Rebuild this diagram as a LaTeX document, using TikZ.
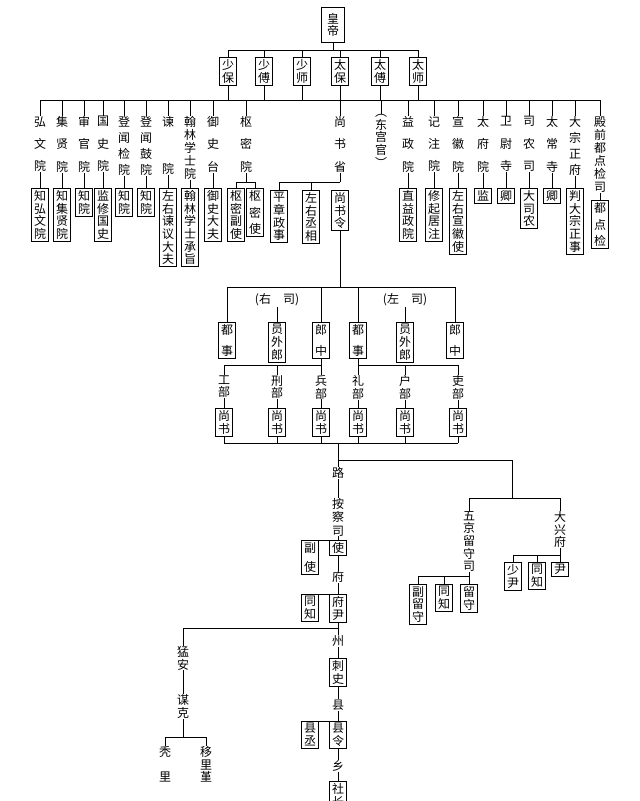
\documentclass[tikz,border=0pt]{standalone}
\usepackage{fontspec}
\newfontfamily\cjk{Noto Sans CJK SC}
\newcommand\lgap{\\[7.3pt]}
\tikzset{
  lbl/.style={font=\cjk\fontsize{9}{9.5}\selectfont, align=center, inner sep=0pt},
  box/.style={draw, font=\cjk\fontsize{9}{9.5}\selectfont, align=center, inner xsep=2pt, inner ysep=1.5pt},
  every path/.style={line width=0.6pt}
}
\begin{document}
\begin{tikzpicture}[x=0.75pt,y=-0.75pt]
    \useasboundingbox (0,0) rectangle (640,801);
    % Emperor and the three dukes / three solitaries
    \node[box, inner sep=4pt] (hd) at (333,25) {皇\\帝};
    \draw (hd.south) -- (333,50);
    \draw (228,50) -- (418,50);
    \foreach \i/\x/\t in {1/228/{少\\保}, 2/264/{少\\傅}, 3/302/{少\\师}, 4/340/{太\\保}, 5/380/{太\\傅}, 6/418/{太\\师}} {
        \node[box, anchor=north] (g\i) at (\x,57) {\t};
        \draw (\x,50) -- (g\i.north);
        \draw (g\i.south) -- (\x,100);
    }
    \draw (40,100) -- (600,100);
    
    % Offices along the main bus
    \foreach \i/\x/\t/\b/\y in {
        a/40/{弘\lgap 文\lgap 院}/{知\\弘\\文\\院}/188,
        b/62/{集\lgap 贤\lgap 院}/{知\\集\\贤\\院}/188,
        c/84/{审\lgap 官\lgap 院}/{知\\院}/188,
        d/103/{国\lgap 史\lgap 院}/{监\\修\\国\\史}/188,
        e/124/{登\\[2.5pt]闻\\[2.5pt]检\\[2.5pt]院}/{知\\院}/188,
        f/146/{登\\[2.5pt]闻\\[2.5pt]鼓\\[2.5pt]院}/{知\\院}/188,
        g/168/{谏\\[26pt]院}/{左\\右\\谏\\议\\大\\夫}/188,
        h/190/{翰\\[0.3pt]林\\[0.3pt]学\\[0.3pt]士\\[0.3pt]院}/{翰\\林\\学\\士\\承\\旨}/188,
        i/213/{御\lgap 史\lgap 台}/{御\\史\\大\\夫}/188,
        k/408/{益\lgap 政\lgap 院}/{直\\益\\政\\院}/188,
        l/434/{记\lgap 注\lgap 院}/{修\\起\\居\\注}/188,
        m/458/{宣\lgap 徽\lgap 院}/{左\\右\\宣\\徽\\使}/188,
        n/483/{太\lgap 府\lgap 院}/{监}/188,
        o/506/{卫\lgap 尉\lgap 寺}/{卿}/188,
        p/529/{司\lgap 农\lgap 司}/{大\\司\\农}/188,
        q/552/{太\lgap 常\lgap 寺}/{卿}/188,
        r/575/{大\\[2.5pt]宗\\[2.5pt]正\\[2.5pt]府}/{判\\大\\宗\\正\\事}/188,
        s/600/{殿\\[0.3pt]前\\[0.3pt]都\\[0.3pt]点\\[0.3pt]检\\[0.3pt]司}/{都\\[3pt]点\\[3pt]检}/200} {
        \node[lbl, anchor=north] (y\i) at (\x,116) {\t};
        \draw (\x,100) -- (y\i.north);
        \node[box, anchor=north] (z\i) at (\x,\y) {\b};
        \draw (y\i.south) -- (z\i.north);
    }
    
    % Privy council
    \node[lbl, anchor=north] (smy) at (246,116) {枢\lgap 密\lgap 院};
    \draw (246,100) -- (smy.north);
    \draw (smy.south) -- (246,182);
    \draw (236,182) -- (255,182);
    \node[box, anchor=north] (smf) at (236,188) {枢\\密\\副\\使};
    \node[box, anchor=north] (sms) at (255,188) {枢\\[3pt]密\\[3pt]使};
    \draw (236,182) -- (smf.north);
    \draw (255,182) -- (sms.north);
    
    % Eastern palace
    \node[lbl, anchor=north] (dgg) at (381,114) {︵\\东\\宫\\官\\︶};
    \draw (381,100) -- (dgg.north);
    
    % Department of State Affairs
    \node[lbl, anchor=north] (ssx) at (340,116) {尚\lgap 书\lgap 省};
    \draw (340,100) -- (ssx.north);
    \draw (ssx.south) -- (340,182);
    \draw (279,182) -- (340,182);
    \node[box, anchor=north] (pzz) at (279,190) {平\\章\\政\\事};
    \node[box, anchor=north] (zyc) at (311,190) {左\\右\\丞\\相};
    \node[box, anchor=north] (ssl) at (340,190) {尚\\书\\令};
    \draw (279,182) -- (pzz.north);
    \draw (311,182) -- (zyc.north);
    \draw (ssl.south) -- (340,287);
    \draw (227,287) -- (455,287);
    
    % Right and left offices
    \node[lbl] (ys) at (277,300) {(右\quad 司)};
    \node[lbl] (zs) at (405,300) {(左\quad 司)};
    \foreach \i/\x in {1/227, 2/358} {
        \node[box, anchor=north] (ds\i) at (\x,322) {都\\[6pt]事};
        \draw (\x,287) -- (ds\i.north);
    }
    \foreach \i/\x in {1/321, 2/455} {
        \node[box, anchor=north] (lz\i) at (\x,322) {郎\\[6pt]中};
        \draw (\x,287) -- (lz\i.north);
    }
    \node[box, anchor=north] (yw1) at (277,322) {员\\外\\郎};
    \node[box, anchor=north] (yw2) at (405,322) {员\\外\\郎};
    \draw (ys.south) -- (yw1.north);
    \draw (zs.south) -- (yw2.north);
    
    % Six ministries
    \draw (lz1.south) -- (321,365);
    \draw (ds2.south) -- (358,365);
    \draw (224,365) -- (321,365);
    \draw (358,365) -- (458,365);
    \foreach \i/\x/\t in {1/224/工, 2/277/刑, 3/321/兵, 4/358/礼, 5/405/户, 6/458/吏} {
        \node[lbl, anchor=north] (bu\i) at (\x,375) {\t\\部};
        \draw (\x,365) -- (bu\i.north);
        \node[box, anchor=north] (sh\i) at (\x,408) {尚\\书};
        \draw (bu\i.south) -- (sh\i.north);
        \draw (sh\i.south) -- (\x,443);
    }
    \draw (224,443) -- (458,443);
    
    % Local administration
    \node[lbl] (lu) at (338,473) {路};
    \draw (338,443) -- (lu.north);
    \node[lbl, anchor=north] (acs) at (338,498) {按\\[0.5pt]察\\[0.5pt]司};
    \node[box, anchor=north] (shi) at (338,540) {使};
    \node[box, anchor=north] (fsh) at (310,540) {副\\[5pt]使};
    \node[lbl] (fu) at (338,577) {府};
    \node[box, anchor=north] (fy) at (338,594) {府\\尹};
    \node[box, anchor=north] (tz1) at (310,594) {同\\知};
    \node[lbl] (zhou) at (338,641) {州};
    \node[box, anchor=north] (cs) at (338,658) {刺\\史};
    \node[lbl] (xian) at (338,705) {县};
    \node[box, anchor=north] (xl) at (338,721) {县\\令};
    \node[box, anchor=north] (xc) at (310,721) {县\\丞};
    \node[lbl] (xiang) at (338,766) {乡};
    \node[box, anchor=north] (sz) at (338,781) {社\\长};
    \draw (lu.south) -- (acs.north);
    \draw (acs.south) -- (shi.north);
    \draw (fsh.north) -- (shi.north west);
    \draw (shi.south) -- (fu.north);
    \draw (fu.south) -- (fy.north);
    \draw (tz1.north) -- (fy.north west);
    \draw (fy.south) -- (zhou.north);
    \draw (zhou.south) -- (cs.north);
    \draw (cs.south) -- (xian.north);
    \draw (xian.south) -- (xl.north);
    \draw (xc.north) -- (xl.north west);
    \draw (xl.south) -- (xiang.north);
    \draw (xiang.south) -- (sz.north);
    
    % Meng'an and mouke
    \draw (183,628) -- (338,628);
    \node[lbl, anchor=north] (ma) at (183,646) {猛\\安};
    \node[lbl, anchor=north] (mk) at (183,694) {谋\\克};
    \draw (183,628) -- (ma.north);
    \draw (ma.south) -- (mk.north);
    \draw (mk.south) -- (183,737);
    \draw (165,737) -- (206,737);
    \node[lbl, anchor=north] (tl) at (165,746) {秃\\[9pt]里};
    \node[lbl, anchor=north] (ylj) at (206,746) {移\\里\\堇};
    \draw (165,737) -- (tl.north);
    \draw (206,737) -- (ylj.north);
    
    % Capitals
    \draw (338,460) -- (512,460) -- (512,498);
    \draw (469,498) -- (560,498);
    \node[lbl, anchor=north] (wj) at (469,511) {五\\京\\留\\守\\司};
    \node[lbl, anchor=north] (dx) at (560,511) {大\\兴\\府};
    \draw (469,498) -- (wj.north);
    \draw (560,498) -- (dx.north);
    \draw (dx.south) -- (560,555);
    \draw (513,555) -- (560,555);
    \node[box, anchor=north] (sy) at (513,562) {少\\尹};
    \node[box, anchor=north] (tz2) at (537,562) {同\\知};
    \node[box, anchor=north] (yin) at (560,562) {尹};
    \draw (513,555) -- (sy.north);
    \draw (537,555) -- (tz2.north);
    \draw (560,555) -- (yin.north);
    \draw (wj.south) -- (469,576);
    \draw (418,576) -- (469,576);
    \node[box, anchor=north] (flz) at (418,584) {副\\留\\守};
    \node[box, anchor=north] (tz3) at (444,584) {同\\知};
    \node[box, anchor=north] (lsh) at (469,584) {留\\守};
    \draw (418,576) -- (flz.north);
    \draw (444,576) -- (tz3.north);
    \draw (469,576) -- (lsh.north);
\end{tikzpicture}
\end{document}
